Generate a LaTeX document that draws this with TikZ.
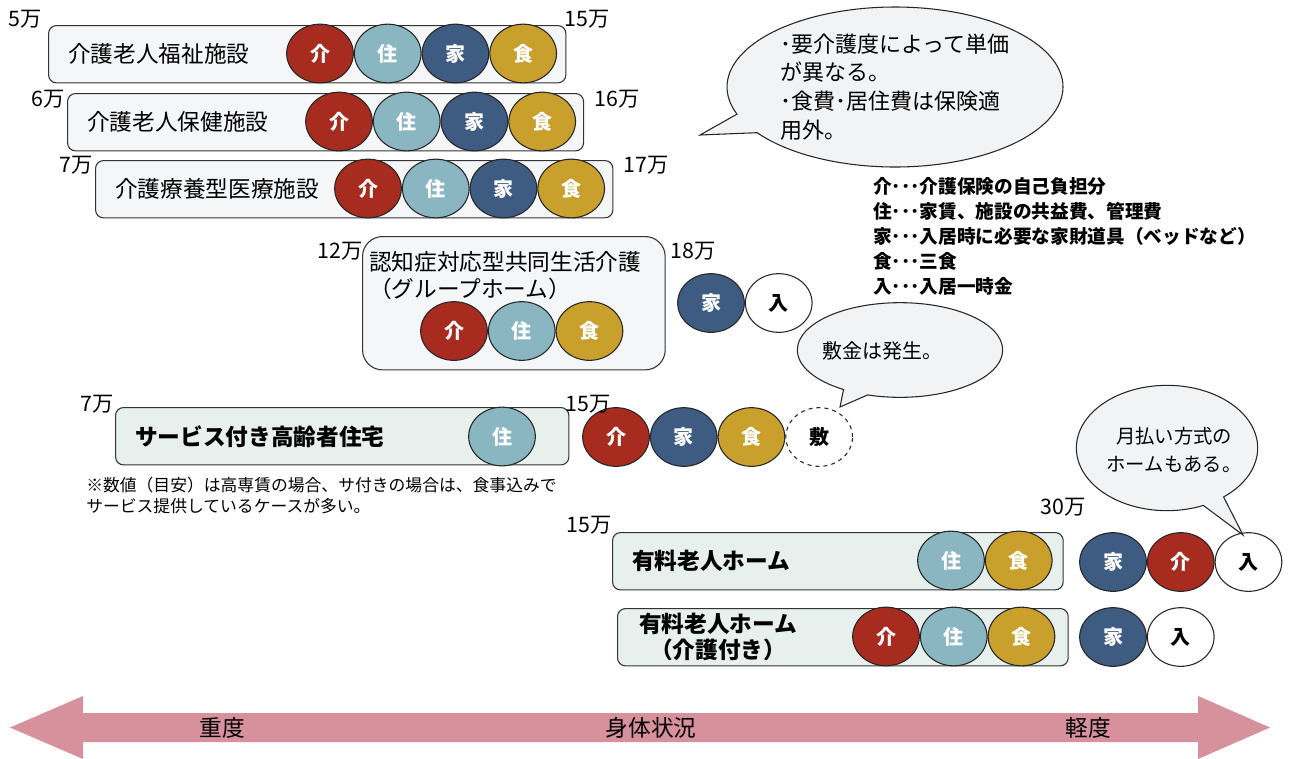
\documentclass[tikz,border=0pt]{standalone}
\usepackage{fontspec}
\setmainfont{Noto Sans CJK JP}
\usetikzlibrary{positioning,shapes.geometric,shapes.callouts}

\definecolor{kaired}{RGB}{168,43,31}
\definecolor{jublue}{RGB}{138,182,193}
\definecolor{iedark}{RGB}{62,91,130}
\definecolor{shokugold}{RGB}{201,160,44}
\definecolor{boxgray}{RGB}{245,246,248}
\definecolor{boxgreen}{RGB}{231,240,236}
\definecolor{bubblegray}{RGB}{242,243,245}
\definecolor{arrowpink}{RGB}{214,145,157}

\begin{document}
\begin{tikzpicture}[%
    x=0.75pt,
    y=-0.75pt,
    node distance=0pt,
    facility/.style={%
      draw=black!80,
      fill=boxgray,
      line width=0.8pt,
      rounded corners=6pt,
      anchor=north west,
      minimum height=43pt
    },
    residence/.style={facility, fill=boxgreen},
    rowlabel/.style={anchor=west, inner sep=0pt, font=\fontsize{17}{20}\selectfont},
    price/.style={inner sep=0pt, font=\fontsize{16}{18}\selectfont},
    chip/.style={%
      ellipse,
      draw=black!85,
      line width=0.8pt,
      minimum width=50pt,
      minimum height=44pt,
      inner sep=0pt,
      text=white,
      font=\bfseries\fontsize{15}{17}\selectfont
    },
    kaichip/.style={chip, fill=kaired},
    juchip/.style={chip, fill=jublue},
    iechip/.style={chip, fill=iedark},
    shokuchip/.style={chip, fill=shokugold},
    nyuchip/.style={chip, fill=white, text=black},
    shikichip/.style={chip, fill=white, text=black, dashed},
    bubble/.style={%
      ellipse callout,
      draw=black!85,
      fill=bubblegray,
      line width=0.8pt,
      inner sep=0pt
    },
    axislabel/.style={font=\fontsize{17}{19}\selectfont}
  ]
    \useasboundingbox (0,0) rectangle (1295,758);

    % 介護老人福祉施設
    \node[facility, minimum width=388pt] (fukushi) at (48,25) {};
    \node[rowlabel] (fukushiname) at (68,53.5) {介護老人福祉施設};
    \node[kaichip] (fukushikai) at (320,53.5) {介};
    \node[juchip, right=of fukushikai] (fukushiju) {住};
    \node[iechip, right=of fukushiju] (fukushiie) {家};
    \node[shokuchip, right=of fukushiie] (fukushishoku) {食};
    \node[price] (fukushimin) at (25,19) {5万};
    \node[price] (fukushimax) at (587,19) {15万};

    % 介護老人保健施設
    \node[facility, minimum width=387pt] (hoken) at (67,93) {};
    \node[rowlabel] (hokenname) at (87,121.5) {介護老人保健施設};
    \node[kaichip] (hokenkai) at (339,121.5) {介};
    \node[juchip, right=of hokenkai] (hokenju) {住};
    \node[iechip, right=of hokenju] (hokenie) {家};
    \node[shokuchip, right=of hokenie] (hokenshoku) {食};
    \node[price] (hokenmin) at (48,99) {6万};
    \node[price] (hokenmax) at (617,99) {16万};

    % 介護療養型医療施設
    \node[facility, minimum width=388pt] (ryoyo) at (95,160) {};
    \node[rowlabel] (ryoyoname) at (115,188.5) {介護療養型医療施設};
    \node[kaichip] (ryoyokai) at (368,188.5) {介};
    \node[juchip, right=of ryoyokai] (ryoyoju) {住};
    \node[iechip, right=of ryoyoju] (ryoyoie) {家};
    \node[shokuchip, right=of ryoyoie] (ryoyoshoku) {食};
    \node[price] (ryoyomin) at (76,165) {7万};
    \node[price] (ryoyomax) at (646,165) {17万};

    % グループホーム
    \node[facility, rounded corners=15pt, minimum width=227pt, minimum height=100pt] (group) at (362,236) {};
    \node[rowlabel, anchor=north west, align=left] (groupname) at (369,251)
      {認知症対応型共同生活介護\\（グループホーム）};
    \node[kaichip] (groupkai) at (454,331) {介};
    \node[juchip, right=of groupkai] (groupju) {住};
    \node[shokuchip, right=of groupju] (groupshoku) {食};
    \node[iechip] (groupie) at (711,303) {家};
    \node[nyuchip, right=of groupie] (groupnyu) {入};
    \node[price] (groupmin) at (340,251) {12万};
    \node[price] (groupmax) at (693,251) {18万};

    % サービス付き高齢者住宅
    \node[residence, minimum width=340pt] (satsuki) at (115,407) {};
    \node[rowlabel, font=\bfseries\fontsize{17}{20}\selectfont] (satsukiname) at (135,436.5) {サービス付き高齢者住宅};
    \node[juchip] (satsukiju) at (502,436.5) {住};
    \node[kaichip] (satsukikai) at (616,437) {介};
    \node[iechip, right=of satsukikai] (satsukiie) {家};
    \node[shokuchip, right=of satsukiie] (satsukishoku) {食};
    \node[shikichip, right=of satsukishoku] (satsukishiki) {敷};
    \node[price] (satsukimin) at (97,404) {7万};
    \node[price] (satsukimax) at (588,404) {15万};
    \node[anchor=north west, align=left, inner sep=0pt, font=\fontsize{12.6}{16}\selectfont] (note) at (86,477)
      {※数値（目安）は高専賃の場合、サ付きの場合は、食事込みで\\サービス提供しているケースが多い。};

    % 有料老人ホーム
    \node[residence, minimum width=338pt] (yuryo) at (612,532) {};
    \node[rowlabel, font=\bfseries\fontsize{17}{20}\selectfont] (yuryoname) at (632,560.5) {有料老人ホーム};
    \node[juchip] (yuryoju) at (951,560.5) {住};
    \node[shokuchip, right=of yuryoju] (yuryoshoku) {食};
    \node[iechip] (yuryoie) at (1113,562) {家};
    \node[kaichip, right=of yuryoie] (yuryokai) {介};
    \node[nyuchip, right=of yuryokai] (yuryonyu) {入};
    \node[price] (yuryomin) at (589,525) {15万};
    \node[price] (yuryomax) at (1063,507) {30万};

    % 有料老人ホーム（介護付き）
    \node[residence, minimum width=338pt] (kaigotsuki) at (617,608) {};
    \node[inner sep=0pt, align=center, font=\bfseries\fontsize{17}{19}\selectfont] (kaigotsukiname) at (718,637)
      {有料老人ホーム\\（介護付き）};
    \node[kaichip] (kaigotsukikai) at (886,636.5) {介};
    \node[juchip, right=of kaigotsukikai] (kaigotsukiju) {住};
    \node[shokuchip, right=of kaigotsukiju] (kaigotsukishoku) {食};
    \node[iechip] (kaigotsukiie) at (1113,637) {家};
    \node[nyuchip, right=of kaigotsukiie] (kaigotsukinyu) {入};

    % 吹き出し
    \node[bubble, minimum width=252pt, minimum height=120pt, callout absolute pointer={(700,135)},
      align=left, font=\fontsize{16.5}{21.5}\selectfont] (tanka) at (895,87)
      {･要介護度によって単価\\が異なる。\\･食費･居住費は保険適\\用外。};
    \node[bubble, minimum width=154pt, minimum height=71pt, callout absolute pointer={(840,407)}] (shikikin) at (900,350) {};
    \node[font=\fontsize{15}{17}\selectfont, inner sep=0pt] (shikikintext) at (882,351) {敷金は発生。};
    \node[bubble, minimum width=136pt, minimum height=94pt, callout absolute pointer={(1243,535)}] (tsukibarai) at (1167,448) {};
    \node[align=center, inner sep=0pt, font=\fontsize{14.5}{21}\selectfont] (tsukibaraitext) at (1174,450)
      {月払い方式の\\ホームもある。};

    % 凡例
    \node[anchor=north west, align=left, inner sep=0pt, font=\bfseries\fontsize{14}{18.75}\selectfont] (legend) at (873,177)
      {介･･･介護保険の自己負担分\\住･･･家賃、施設の共益費、管理費\\家･･･入居時に必要な家財道具（ベッドなど）\\食･･･三食\\入･･･入居一時金};

    % 身体状況
    \fill[arrowpink] (10,727.5) -- (83,696) -- (83,713) -- (1198,713) -- (1198,696)
      -- (1270,727.5) -- (1198,759) -- (1198,742) -- (83,742) -- (83,759) -- cycle;
    \node[axislabel] (heavy) at (222,728) {重度};
    \node[axislabel] (body) at (651,728) {身体状況};
    \node[axislabel] (light) at (1088,728) {軽度};
  \end{tikzpicture}
\end{document}
